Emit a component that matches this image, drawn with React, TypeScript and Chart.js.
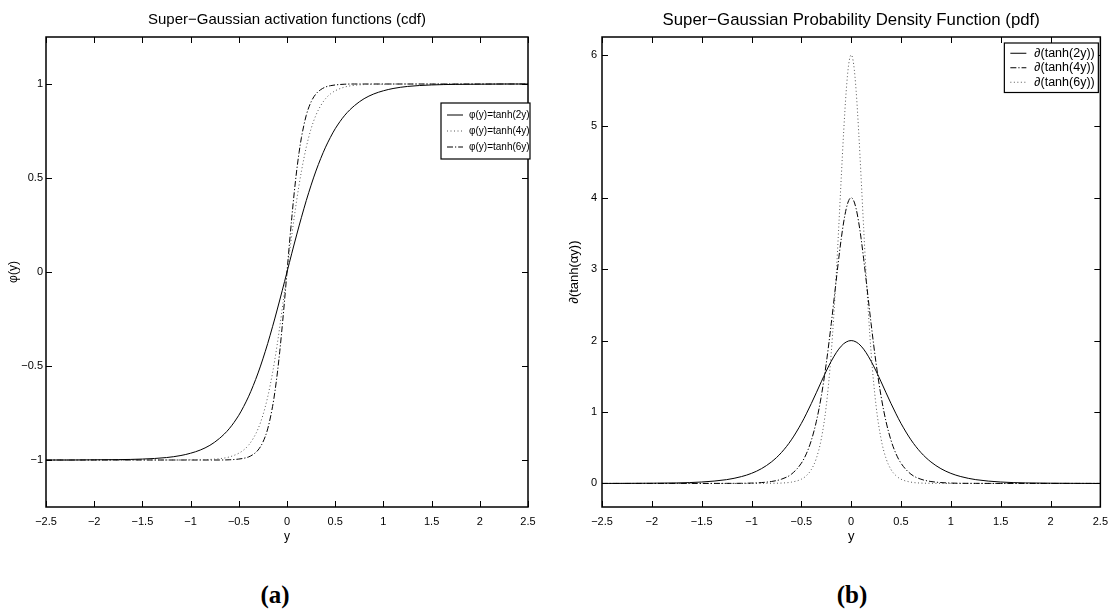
import React, { useEffect, useRef } from 'react';
import { Chart, registerables } from 'chart.js';

Chart.register(...registerables);

// ---------------- data ----------------
const xValues = [
  -2.5, -2.25, -2, -1.75, -1.5, -1.25, -1.1, -1, -0.9, -0.8, -0.7, -0.6, -0.5, -0.45, -0.4, -0.35, -0.3, -0.25, -0.2,
  -0.15, -0.125, -0.1, -0.075, -0.05, -0.025, 0, 0.025, 0.05, 0.075, 0.1, 0.125, 0.15, 0.2, 0.25, 0.3, 0.35, 0.4, 0.45,
  0.5, 0.6, 0.7, 0.8, 0.9, 1, 1.1, 1.25, 1.5, 1.75, 2, 2.25, 2.5,
];

const cdfTanh2 = [
  -1.0, -1.0, -0.999, -0.998, -0.995, -0.987, -0.976, -0.964, -0.947, -0.922, -0.885, -0.834, -0.762, -0.716, -0.664,
  -0.604, -0.537, -0.462, -0.38, -0.291, -0.245, -0.197, -0.149, -0.1, -0.05, 0, 0.05, 0.1, 0.149, 0.197, 0.245, 0.291,
  0.38, 0.462, 0.537, 0.604, 0.664, 0.716, 0.762, 0.834, 0.885, 0.922, 0.947, 0.964, 0.976, 0.987, 0.995, 0.998, 0.999,
  1.0, 1.0,
];

const cdfTanh4 = [
  -1.0, -1.0, -1.0, -1.0, -1.0, -1.0, -1.0, -0.999, -0.999, -0.997, -0.993, -0.984, -0.964, -0.947, -0.922, -0.885,
  -0.834, -0.762, -0.664, -0.537, -0.462, -0.38, -0.291, -0.197, -0.1, 0, 0.1, 0.197, 0.291, 0.38, 0.462, 0.537, 0.664,
  0.762, 0.834, 0.885, 0.922, 0.947, 0.964, 0.984, 0.993, 0.997, 0.999, 0.999, 1.0, 1.0, 1.0, 1.0, 1.0, 1.0, 1.0,
];

const cdfTanh6 = [
  -1.0, -1.0, -1.0, -1.0, -1.0, -1.0, -1.0, -1.0, -1.0, -1.0, -1.0, -0.999, -0.995, -0.991, -0.984, -0.97, -0.947,
  -0.905, -0.834, -0.716, -0.635, -0.537, -0.422, -0.291, -0.149, 0, 0.149, 0.291, 0.422, 0.537, 0.635, 0.716, 0.834,
  0.905, 0.947, 0.97, 0.984, 0.991, 0.995, 0.999, 1.0, 1.0, 1.0, 1.0, 1.0, 1.0, 1.0, 1.0, 1.0, 1.0, 1.0,
];

const pdfTanh2 = [
  0.0, 0.001, 0.003, 0.007, 0.02, 0.053, 0.096, 0.141, 0.207, 0.301, 0.432, 0.61, 0.84, 0.974, 1.118, 1.269, 1.423,
  1.573, 1.711, 1.83, 1.88, 1.922, 1.956, 1.98, 1.995, 2.0, 1.995, 1.98, 1.956, 1.922, 1.88, 1.83, 1.711, 1.573, 1.423,
  1.269, 1.118, 0.974, 0.84, 0.61, 0.432, 0.301, 0.207, 0.141, 0.096, 0.053, 0.02, 0.007, 0.003, 0.001, 0.0,
];

const pdfTanh4 = [
  0.0, 0.0, 0.0, 0.0, 0.0, 0.001, 0.002, 0.005, 0.012, 0.027, 0.059, 0.129, 0.283, 0.414, 0.602, 0.864, 1.22, 1.68,
  2.236, 2.846, 3.146, 3.423, 3.66, 3.844, 3.96, 4.0, 3.96, 3.844, 3.66, 3.423, 3.146, 2.846, 2.236, 1.68, 1.22, 0.864,
  0.602, 0.414, 0.283, 0.129, 0.059, 0.027, 0.012, 0.005, 0.002, 0.001, 0.0, 0.0, 0.0, 0.0, 0.0,
];

const pdfTanh6 = [
  0.0, 0.0, 0.0, 0.0, 0.0, 0.0, 0.0, 0.0, 0.001, 0.002, 0.005, 0.018, 0.059, 0.108, 0.194, 0.349, 0.622, 1.085, 1.829,
  2.921, 3.58, 4.27, 4.932, 5.491, 5.867, 6.0, 5.867, 5.491, 4.932, 4.27, 3.58, 2.921, 1.829, 1.085, 0.622, 0.349,
  0.194, 0.108, 0.059, 0.018, 0.005, 0.002, 0.001, 0.0, 0.0, 0.0, 0.0, 0.0, 0.0, 0.0, 0.0,
];

const xTickValues = [-2.5, -2, -1.5, -1, -0.5, 0, 0.5, 1, 1.5, 2, 2.5];
const cdfTickValues = [-1, -0.5, 0, 0.5, 1];
const pdfTickValues = [0, 1, 2, 3, 4, 5, 6];

const cdfLabels = ['φ(y)=tanh(2y)', 'φ(y)=tanh(4y)', 'φ(y)=tanh(6y)'];
const pdfLabels = ['∂(tanh(2y))', '∂(tanh(4y))', '∂(tanh(6y))'];

const cdfTitle = 'Super−Gaussian activation functions (cdf)';
const pdfTitle = 'Super−Gaussian Probability Density Function (pdf)';

// ---------------- styling ----------------
const FONT = "'Liberation Sans', Arial, Helvetica, sans-serif";
const SOLID: number[] = [];
const DOTTED = [1, 2.5];
const DASHDOT = [6, 2, 1.2, 2];

const fmt = (v: number | string) => String(v).replace('-', '−');

const matlabPlugin = {
  id: 'matlabBox',
  afterDatasetsDraw(chart: any, _args: any, opts: any) {
    const { ctx, chartArea: a, scales } = chart;
    ctx.save();
    // title
    ctx.fillStyle = '#000';
    ctx.font = `${opts.titleSize}px ${FONT}`;
    ctx.textAlign = 'center';
    ctx.textBaseline = 'middle';
    ctx.fillText(opts.title, (a.left + a.right) / 2 + (opts.titleShift || 0), opts.titleY);

    // inward ticks on four sides
    ctx.strokeStyle = '#000';
    ctx.lineWidth = 1;
    const tl = 6;
    ctx.beginPath();
    for (const v of opts.xTicks) {
      const px = Math.round(scales.x.getPixelForValue(v)) + 0.5;
      ctx.moveTo(px, a.bottom);
      ctx.lineTo(px, a.bottom - tl);
      ctx.moveTo(px, a.top);
      ctx.lineTo(px, a.top + tl);
    }
    for (const v of opts.yTicks) {
      const py = Math.round(scales.y.getPixelForValue(v)) + 0.5;
      ctx.moveTo(a.left, py);
      ctx.lineTo(a.left + tl, py);
      ctx.moveTo(a.right, py);
      ctx.lineTo(a.right - tl, py);
    }
    ctx.stroke();
    ctx.lineWidth = 1.5;
    ctx.strokeRect(a.left, a.top, a.right - a.left, a.bottom - a.top);

    // legend
    const lg = opts.legend;
    const ds = chart.data.datasets;
    const bx = a.right + lg.rightOffset - lg.width;
    const by = lg.top;
    const bh = lg.pad * 2 + lg.rowH * ds.length;
    ctx.fillStyle = '#fff';
    ctx.fillRect(bx, by, lg.width, bh);
    ctx.lineWidth = 1.2;
    ctx.strokeStyle = '#000';
    ctx.strokeRect(bx, by, lg.width, bh);
    ctx.font = `${lg.fontSize}px ${FONT}`;
    ctx.textAlign = 'left';
    ctx.textBaseline = 'middle';
    ds.forEach((d: any, i: number) => {
      const cy = by + lg.pad + lg.rowH * (i + 0.5);
      ctx.save();
      ctx.strokeStyle = d.borderColor;
      ctx.lineWidth = 1;
      ctx.setLineDash(d.borderDash || []);
      ctx.beginPath();
      ctx.moveTo(bx + 6, cy);
      ctx.lineTo(bx + 6 + lg.sample, cy);
      ctx.stroke();
      ctx.restore();
      ctx.fillStyle = '#000';
      ctx.fillText(d.label, bx + 6 + lg.sample + lg.gap, cy);
    });
    ctx.restore();
  },
};

function makeDataset(label: string, ys: number[], dash: number[], color: string) {
  return {
    label,
    data: xValues.map((x, i) => ({ x, y: ys[i] })),
    borderColor: color,
    borderWidth: 1,
    borderDash: dash,
    pointRadius: 0,
    fill: false,
    cubicInterpolationMode: 'monotone',
  };
}

function makeConfig(p: {
  datasets: any[];
  yMin: number;
  yMax: number;
  yTicks: number[];
  yTitle: string;
  yWidth: number;
  yTitlePad: number;
  yTickPad: number;
  rightPad: number;
  title: string;
  titleSize: number;
  tickSize: number;
  labelSize: number;
  legend: any;
}) {
  const tickFont = { family: FONT, size: p.tickSize };
  const labelFont = { family: FONT, size: p.labelSize };
  return {
    type: 'line',
    data: { datasets: p.datasets },
    options: {
      responsive: false,
      animation: false,
      devicePixelRatio: 1,
      layout: { padding: { left: 0, right: p.rightPad, top: 37, bottom: 0 } },
      scales: {
        x: {
          type: 'linear',
          min: -2.5,
          max: 2.5,
          grid: { display: false, drawTicks: false },
          border: { display: false },
          ticks: { font: tickFont, color: '#000', padding: 8, maxRotation: 0, autoSkip: false, callback: fmt },
          afterBuildTicks: (s: any) => {
            s.ticks = xTickValues.map((v) => ({ value: v }));
          },
          afterFit: (s: any) => {
            s.height = 53;
          },
          title: { display: true, text: 'y', font: labelFont, color: '#000', padding: { top: 0, bottom: 16 } },
        },
        y: {
          type: 'linear',
          min: p.yMin,
          max: p.yMax,
          grid: { display: false, drawTicks: false },
          border: { display: false },
          ticks: { font: tickFont, color: '#000', padding: p.yTickPad, autoSkip: false, callback: fmt },
          afterBuildTicks: (s: any) => {
            s.ticks = p.yTicks.map((v) => ({ value: v }));
          },
          afterFit: (s: any) => {
            s.width = p.yWidth;
          },
          title: {
            display: true,
            text: p.yTitle,
            font: labelFont,
            color: '#000',
            padding: { top: p.yTitlePad, bottom: 0 },
          },
        },
      },
      plugins: {
        legend: { display: false },
        tooltip: { enabled: false },
        matlabBox: {
          title: p.title,
          titleSize: p.titleSize,
          titleY: 20,
          xTicks: xTickValues,
          yTicks: p.yTicks,
          legend: p.legend,
        },
      },
    },
    plugins: [matlabPlugin],
  };
}

export default function App() {
  const leftRef = useRef<HTMLCanvasElement>(null);
  const rightRef = useRef<HTMLCanvasElement>(null);

  useEffect(() => {
    const left = new Chart(
      leftRef.current as HTMLCanvasElement,
      makeConfig({
        datasets: [
          makeDataset(cdfLabels[0], cdfTanh2, SOLID, '#000'),
          makeDataset(cdfLabels[1], cdfTanh4, DOTTED, '#555'),
          makeDataset(cdfLabels[2], cdfTanh6, DASHDOT, '#000'),
        ],
        yMin: -1.25,
        yMax: 1.25,
        yTicks: cdfTickValues,
        yTitle: 'φ(y)',
        yWidth: 46,
        yTitlePad: 6,
        yTickPad: 3,
        rightPad: 30,
        title: cdfTitle,
        titleSize: 15,
        tickSize: 11,
        labelSize: 12,
        legend: { rightOffset: 2, width: 89, top: 103, rowH: 16, pad: 4, sample: 16, gap: 6, fontSize: 10 },
      }) as any
    );
    const right = new Chart(
      rightRef.current as HTMLCanvasElement,
      makeConfig({
        datasets: [
          makeDataset(pdfLabels[0], pdfTanh2, SOLID, '#000'),
          makeDataset(pdfLabels[1], pdfTanh4, DASHDOT, '#000'),
          makeDataset(pdfLabels[2], pdfTanh6, DOTTED, '#555'),
        ],
        yMin: -0.33,
        yMax: 6.25,
        yTicks: pdfTickValues,
        yTitle: '∂(tanh(αy))',
        yWidth: 44,
        yTitlePad: 9,
        yTickPad: 5,
        rightPad: 15,
        title: pdfTitle,
        titleSize: 16.8,
        tickSize: 11,
        labelSize: 13,
        legend: { rightOffset: -2, width: 94, top: 43, rowH: 14.5, pad: 3, sample: 16, gap: 8, fontSize: 12.5 },
      }) as any
    );
    return () => {
      left.destroy();
      right.destroy();
    };
  }, []);

  const capStyle: React.CSSProperties = {
    position: 'absolute',
    top: 580,
    fontFamily: "'Liberation Serif', 'DejaVu Serif', serif",
    fontWeight: 'bold',
    fontSize: 25,
    color: '#000',
    width: 60,
    textAlign: 'center',
    lineHeight: '30px',
  };

  return (
    <div style={{ position: 'absolute', left: 0, top: 0, width: 1116, height: 616, background: '#fff', overflow: 'hidden' }}>
      <canvas ref={leftRef} width={558} height={560} style={{ position: 'absolute', left: 0, top: 0 }} />
      <canvas ref={rightRef} width={558} height={560} style={{ position: 'absolute', left: 558, top: 0 }} />
      <div style={{ ...capStyle, left: 245 }}>(a)</div>
      <div style={{ ...capStyle, left: 822 }}>(b)</div>
    </div>
  );
}
